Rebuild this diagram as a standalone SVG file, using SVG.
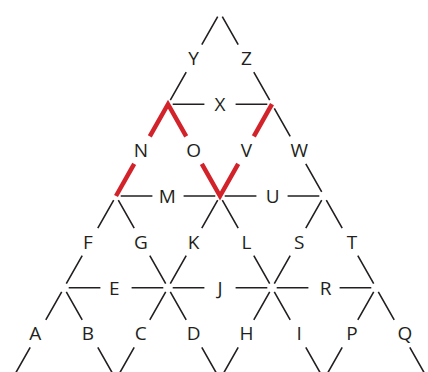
<svg xmlns="http://www.w3.org/2000/svg" width="428" height="372" viewBox="0 0 428 372">
<style>
.e{stroke:#231f20;stroke-width:1.6;fill:none}
.r{stroke:#d2232a;stroke-width:4.5;fill:none;stroke-linejoin:miter;stroke-miterlimit:10}
text{font-family:"Open Sans","Liberation Sans",sans-serif;font-size:19px;fill:#231f20;text-anchor:middle}
</style>
<rect width="428" height="372" fill="#ffffff"/>
<g id="connectors">
<g class="e">
<!-- Y --><path d="M217.7,16.6L201.8,44.6M186.2,72.1L170.3,100.1"/>
<!-- Z --><path d="M222.3,16.6L238.2,44.6M253.8,72.1L269.7,100.1"/>
<!-- X --><path d="M172.7,104.2H204.4M235.6,104.2H267.3"/>
<!-- W --><path d="M274.3,108.3L290.2,136.3M305.8,163.8L321.7,191.8"/>
<!-- M --><path d="M120.7,196H152.4M183.6,196H215.3"/>
<!-- U --><path d="M224.7,196H256.4M287.6,196H319.3"/>
<!-- F --><path d="M113.7,200.1L97.8,228.1M82.2,255.6L66.3,283.6"/>
<!-- G --><path d="M118.3,200.1L134.2,228.1M149.8,255.6L165.7,283.6"/>
<!-- K --><path d="M217.7,200.1L201.8,228.1M186.2,255.6L170.3,283.6"/>
<!-- L --><path d="M222.3,200.1L238.2,228.1M253.8,255.6L269.7,283.6"/>
<!-- S --><path d="M321.7,200.1L305.8,228.1M290.2,255.6L274.3,283.6"/>
<!-- T --><path d="M326.3,200.1L342.2,228.1M357.8,255.6L373.7,283.6"/>
<!-- E --><path d="M68.7,287.8H100.4M131.6,287.8H163.3"/>
<!-- J --><path d="M172.7,287.8H204.4M235.6,287.8H267.3"/>
<!-- R --><path d="M276.7,287.8H308.4M339.6,287.8H371.3"/>
<!-- A --><path d="M61.7,291.9L45.8,319.9M30.2,347.4L14.3,375.4"/>
<!-- B --><path d="M66.3,291.9L82.2,319.9M97.8,347.4L113.7,375.4"/>
<!-- C --><path d="M165.7,291.9L149.8,319.9M134.2,347.4L118.3,375.4"/>
<!-- D --><path d="M170.3,291.9L186.2,319.9M201.8,347.4L217.7,375.4"/>
<!-- H --><path d="M269.7,291.9L253.8,319.9M238.2,347.4L222.3,375.4"/>
<!-- I --><path d="M274.3,291.9L290.2,319.9M305.8,347.4L321.7,375.4"/>
<!-- P --><path d="M373.7,291.9L357.8,319.9M342.2,347.4L326.3,375.4"/>
<!-- Q --><path d="M378.3,291.9L394.2,319.9M409.8,347.4L425.7,375.4"/>
</g>
<g class="r">
<path d="M149.8,136.3L168,104.2L186.2,136.3"/>
<path d="M134.2,163.8L116,196"/>
<path d="M201.8,163.8L220,196L238.2,163.8"/>
<path d="M253.8,136.3L272,104.2"/>
</g>
</g>
<g id="labels">
<g id="node-Y"><text x="193.6" y="65">Y</text></g>
<g id="node-Z"><text x="246.4" y="65">Z</text></g>
<g id="node-X"><text x="220" y="111">X</text></g>
<g id="node-N"><text x="140.8" y="157">N</text></g>
<g id="node-O"><text x="193.6" y="157">O</text></g>
<g id="node-V"><text x="246.4" y="157">V</text></g>
<g id="node-W"><text x="299.2" y="157">W</text></g>
<g id="node-M"><text x="167.2" y="203">M</text></g>
<g id="node-U"><text x="272.8" y="203">U</text></g>
<g id="node-F"><text x="88" y="248.6">F</text></g>
<g id="node-G"><text x="140.8" y="248.6">G</text></g>
<g id="node-K"><text x="193.6" y="248.6">K</text></g>
<g id="node-L"><text x="246.4" y="248.6">L</text></g>
<g id="node-S"><text x="299.2" y="248.6">S</text></g>
<g id="node-T"><text x="352" y="248.6">T</text></g>
<g id="node-E"><text x="114.4" y="294.6">E</text></g>
<g id="node-J"><text x="220" y="294.6">J</text></g>
<g id="node-R"><text x="325.6" y="294.6">R</text></g>
<g id="node-A"><text x="35.2" y="340.3">A</text></g>
<g id="node-B"><text x="88" y="340.3">B</text></g>
<g id="node-C"><text x="140.8" y="340.3">C</text></g>
<g id="node-D"><text x="193.6" y="340.3">D</text></g>
<g id="node-H"><text x="246.4" y="340.3">H</text></g>
<g id="node-I"><text x="299.2" y="340.3">I</text></g>
<g id="node-P"><text x="352" y="340.3">P</text></g>
<g id="node-Q"><text x="404.8" y="340.3">Q</text></g>
</g>
</svg>
